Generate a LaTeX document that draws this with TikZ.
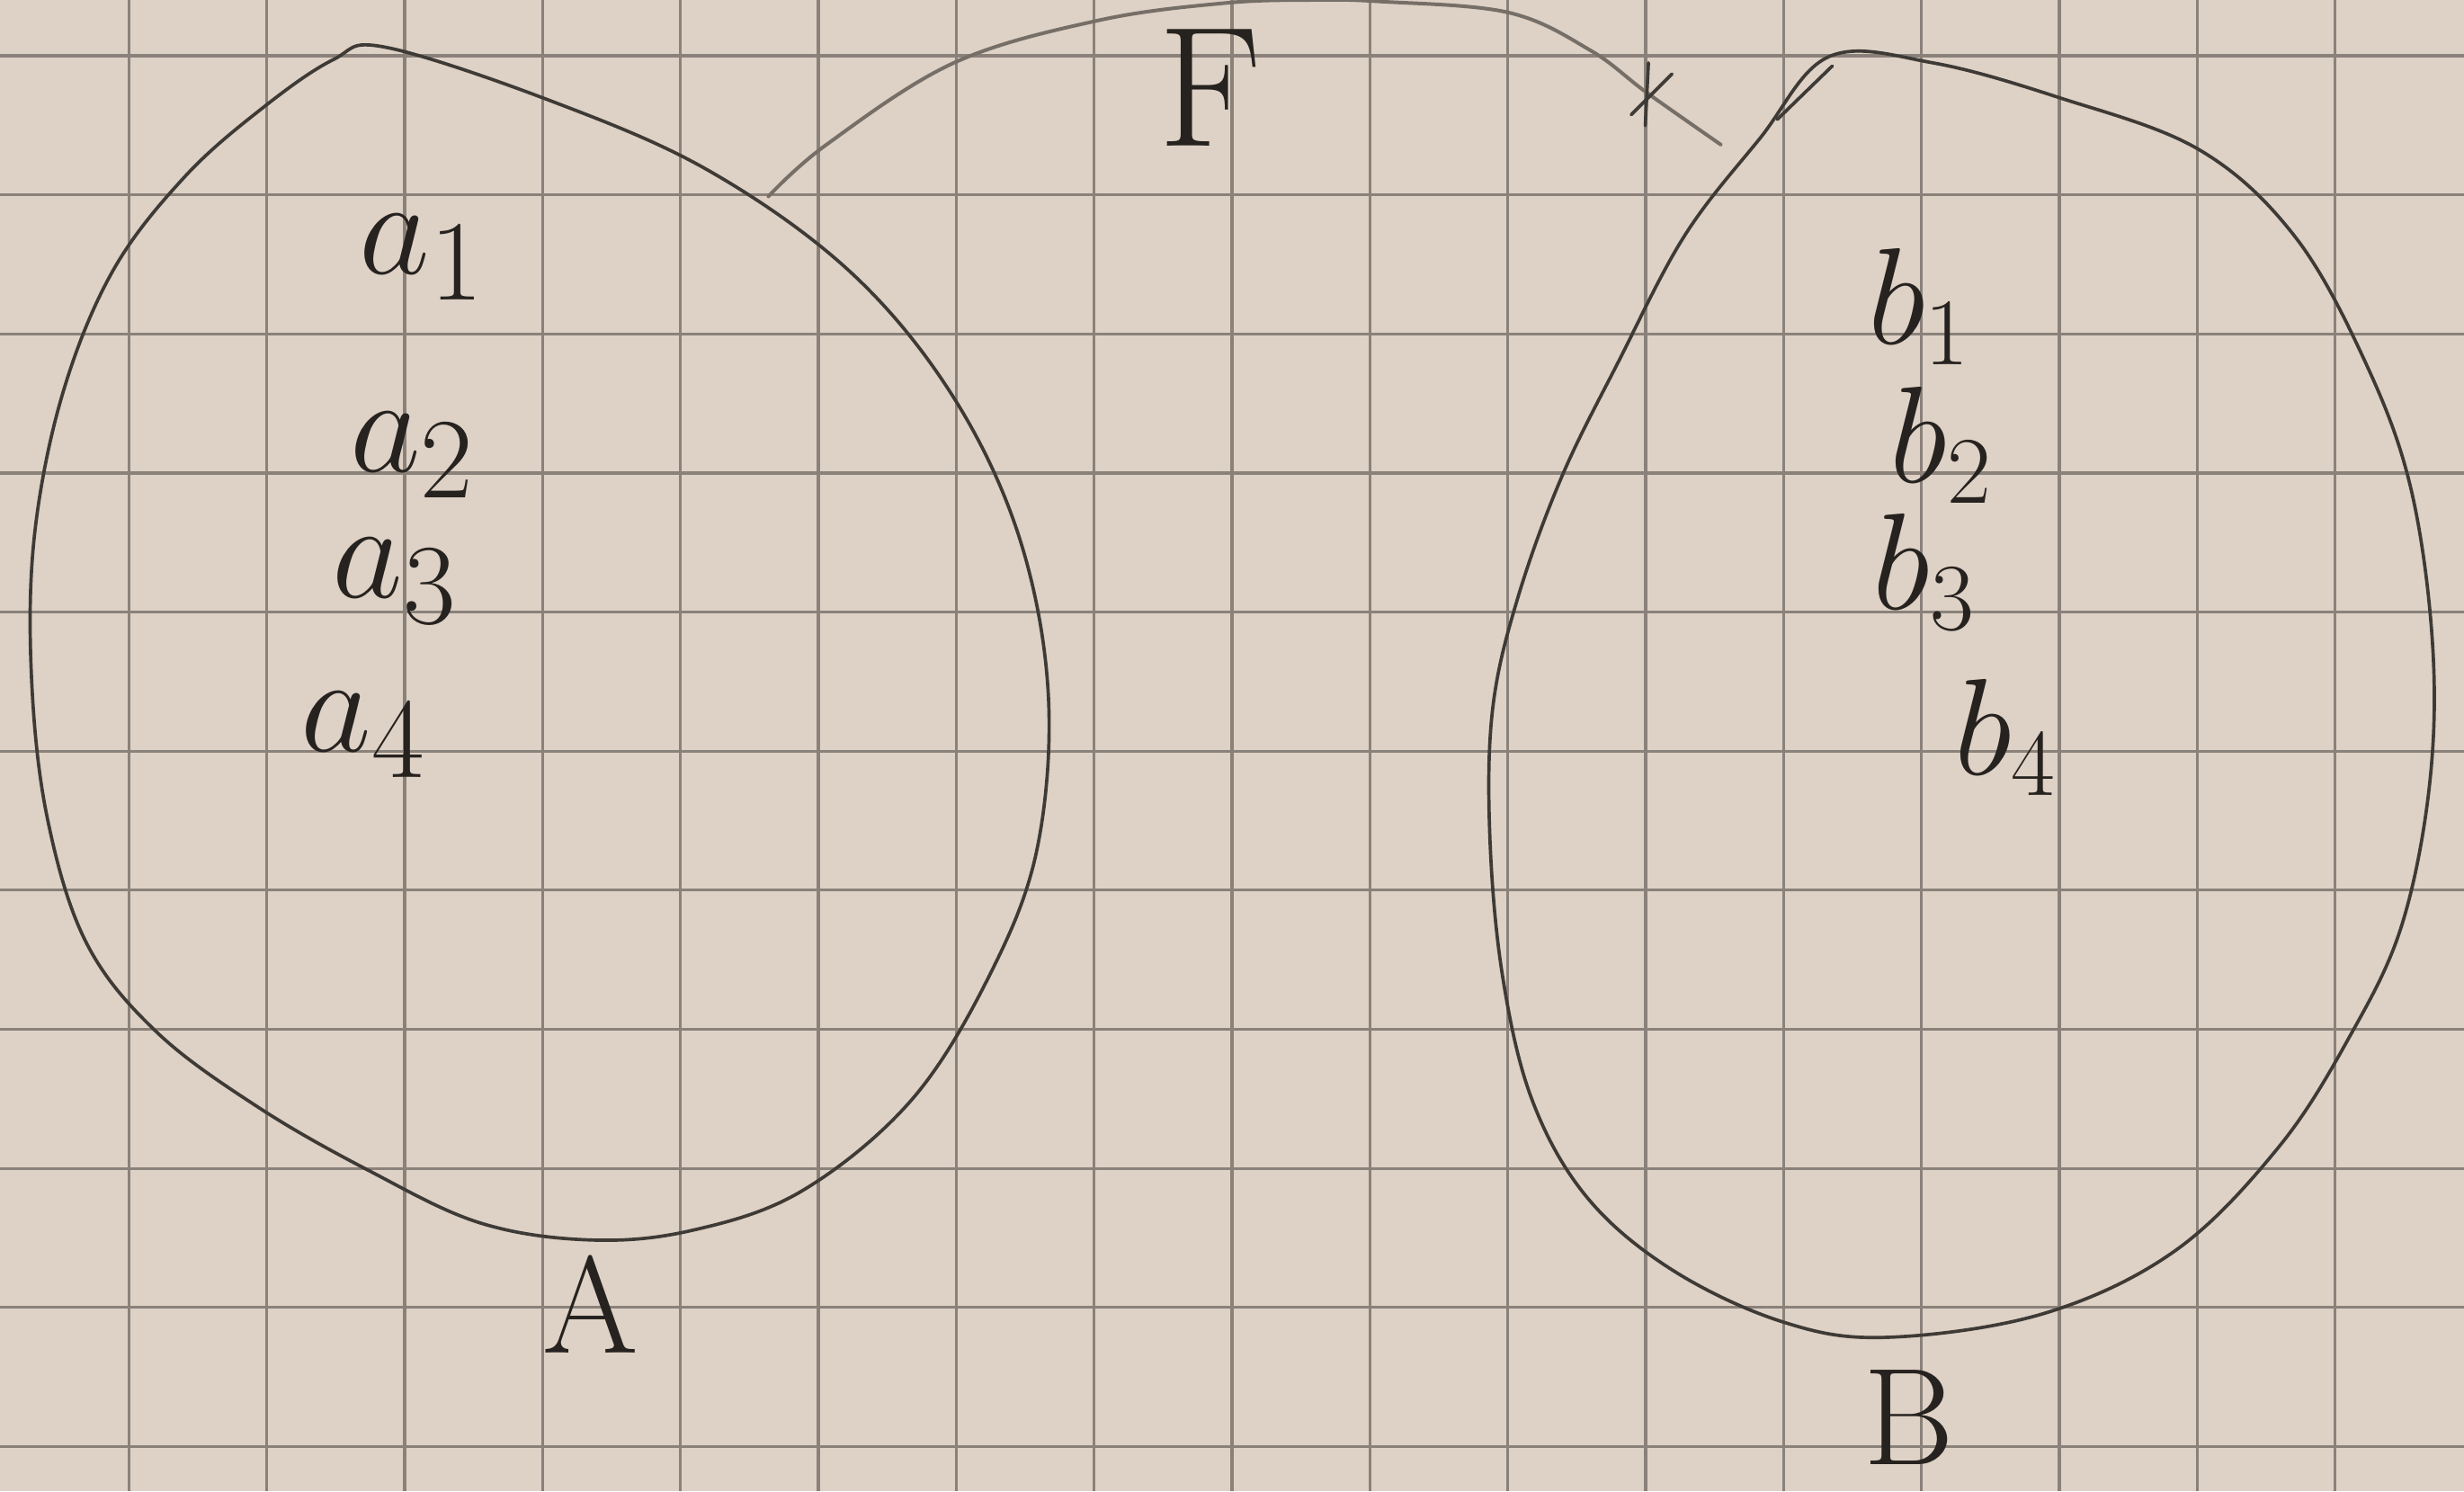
\documentclass[tikz,border=0pt]{standalone}
\usepackage{xcolor}
\definecolor{paper}{RGB}{222,209,197}
\definecolor{gridc}{RGB}{138,130,122}
\definecolor{pencil}{RGB}{62,58,54}
\definecolor{pencillight}{RGB}{118,111,104}
\definecolor{ink}{RGB}{38,34,31}
\begin{document}
\begin{tikzpicture}[x=0.01cm,y=-0.01cm,
  gridline/.style={gridc, line width=0.5pt},
  blob/.style={pencil, line width=0.6pt, line cap=round, line join=round},
  arcline/.style={pencillight, line width=0.65pt, line cap=round},
  lbl/.style={ink, inner sep=0pt, anchor=base west, font=\fontsize{28}{28}\selectfont},
  blbl/.style={ink, inner sep=0pt, anchor=base west, font=\fontsize{25}{25}\selectfont},
  caplbl/.style={ink, inner sep=0pt, font=\fontsize{25}{25}\selectfont}]
\fill[paper] (0,0) rectangle (1568,949);
\useasboundingbox (0,0) rectangle (1568,949);
% squared paper
\foreach \i in {0,...,16}{\draw[gridline] ({82+87.75*\i},0) -- ({82+87.75*\i},949);}
\foreach \j in {0,...,10}{\draw[gridline] (0,{35.5+88.5*\j}) -- (1568,{35.5+88.5*\j});}
% set A
\draw[blob] plot[smooth cycle, tension=0.6] coordinates {(245,30) (350,64) (450,108) (540,172) (605,250) (648,340) (667,440) (660,540) (630,620) (580,700) (510,758) (440,783) (375,789) (305,778) (235,745) (165,705) (100,657) (55,600) (30,520) (20,430) (22,340) (40,250) (72,172) (118,112) (168,68) (212,38)};
% set B
\draw[blob] plot[smooth cycle, tension=0.6] coordinates {(1164,36) (1230,40) (1310,62) (1399,95) (1460,150) (1505,230) (1534,310) (1548,410) (1546,500) (1528,590) (1495,660) (1450,730) (1384,796) (1300,836) (1200,851) (1134,841) (1064,808) (1010,762) (975,700) (956,620) (948,530) (950,450) (966,380) (994,303) (1030,230) (1072,150) (1120,88)};
\draw[blob] (1166,42) -- (1131,76);
% elements of A
\node[lbl] (a1) at (228,174) {$a_1$};
\node[lbl] (a2) at (222,300) {$a_2$};
\node[lbl] (a3) at (211,380) {$a_3$};
\node[lbl] (a4) at (191,478) {$a_4$};
% elements of B
\node[blbl] (b1) at (1188,219) {$b_1$};
\node[blbl] (b2) at (1202,307) {$b_2$};
\node[blbl] (b3) at (1191,388) {$b_3$};
\node[blbl] (b4) at (1243,493) {$b_4$};
% set names
\node[caplbl] (labA) at (376,830) {A};
\node[caplbl] (labB) at (1215,902) {B};
\node[caplbl, font=\fontsize{31}{31}\selectfont] (labF) at (770,56) {F};
% map F
\coordinate (fstart) at (489,125);
\coordinate (fend) at (1095,92);
\draw[arcline] plot[smooth, tension=0.6] coordinates {(fstart) (526,92) (607,40) (699,13) (779,2) (835,0) (879,1) (960,8) (1012,32) (1048,59) (fend)};
\draw[blob] (1049,40) -- (1047,80);
\draw[blob] (1064,47) -- (1038,73);
\end{tikzpicture}
\end{document}
